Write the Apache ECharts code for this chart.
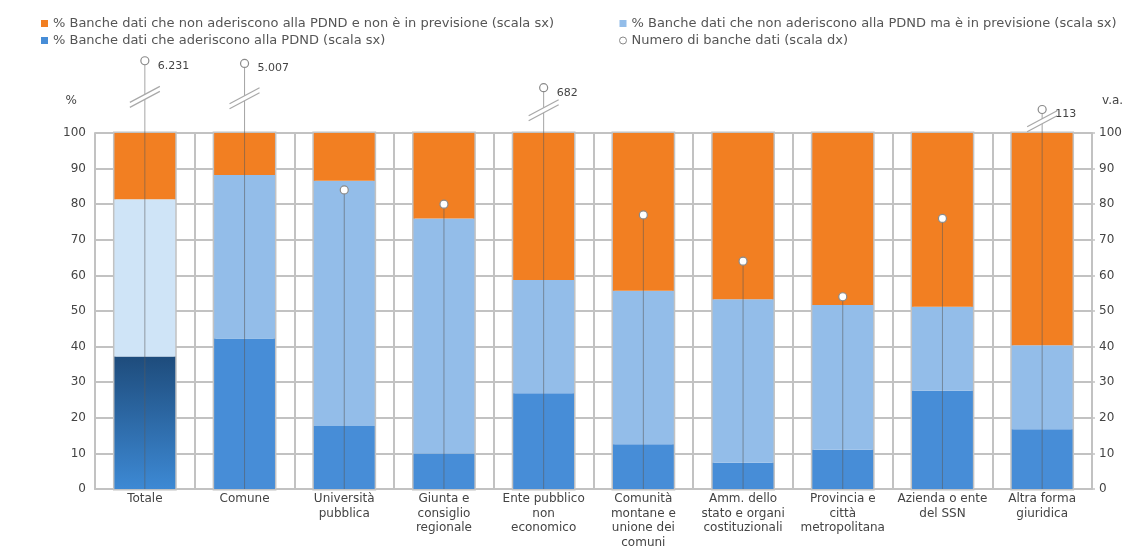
<!DOCTYPE html>
<html>
<head>
<meta charset="utf-8">
<script src="https://cdn.jsdelivr.net/npm/echarts@6/dist/echarts.min.js"></script>
<style>
  html, body { margin: 0; padding: 0; background: #fff; }
  #chart { width: 1138px; height: 559px; }
</style>
</head>
<body>
<div id="chart"></div>
<script>
// Tipologia di ente
const categories = [
  'Totale',
  'Comune',
  'Università\npubblica',
  'Giunta e\nconsiglio\nregionale',
  'Ente pubblico\nnon\neconomico',
  'Comunità\nmontane e\nunione dei\ncomuni',
  'Amm. dello\nstato e organi\ncostituzionali',
  'Provincia e\ncittà\nmetropolitana',
  'Azienda o ente\ndel SSN',
  'Altra forma\ngiuridica'
];

// Quote percentuali (scala sx)
const pctAdherent = [37.2, 42.3, 17.7, 10.0, 26.9, 12.6, 7.4, 11.0, 27.6, 16.8];
const pctPlanned = [44.2, 45.9, 68.9, 66.0, 31.8, 43.1, 45.9, 40.7, 23.6, 23.6];
const pctNotPlanned = [18.6, 11.8, 13.4, 24.0, 41.3, 44.3, 46.7, 48.3, 48.8, 59.6];

// Numero di banche dati (scala dx)
const dbCount = [6231, 5007, 84, 80, 682, 77, 64, 54, 76, 113];

// Assi
const pctAxis = { min: 0, max: 100, interval: 10 };
const countAxis = { min: 0, max: 100, interval: 10 };

const S_NOT = '% Banche dati che non aderiscono alla PDND e non è in previsione (scala sx)';
const S_PLAN = '% Banche dati che non aderiscono alla PDND ma è in previsione (scala sx)';
const S_ADH = '% Banche dati che aderiscono alla PDND (scala sx)';
const S_NUM = 'Numero di banche dati (scala dx)';

const FONT = 'DejaVu Sans';
const TXT = '#444';
const GRID = '#c2c2c2';
const ORANGE = '#f27f22';
const LIGHT = '#93bde9';
const BLUE = '#478dd7';

function itFormat(v) {
  return String(v).replace(/\B(?=(\d{3})+(?!\d))/g, '.');
}

const totalBlue = new echarts.graphic.LinearGradient(0, 0, 0, 1, [
  { offset: 0, color: '#1e4c7c' },
  { offset: 1, color: '#3d89d4' }
]);

const chart = echarts.init(document.getElementById('chart'), null, { renderer: 'canvas' });

chart.setOption({
  animation: false,
  backgroundColor: '#fff',
  textStyle: { fontFamily: FONT },
  legend: [
    {
      left: 36, top: 12, orient: 'vertical', itemGap: 4,
      itemWidth: 7, itemHeight: 7, icon: 'rect',
      textStyle: { color: '#555', fontSize: 13, fontFamily: FONT },
      data: [S_NOT, S_ADH]
    },
    {
      left: 614, top: 12, orient: 'vertical', itemGap: 4,
      itemWidth: 7, itemHeight: 7,
      textStyle: { color: '#555', fontSize: 13, fontFamily: FONT },
      data: [
        { name: S_PLAN, icon: 'rect' },
        { name: S_NUM, icon: 'circle', itemStyle: { color: '#fff', borderColor: '#888', borderWidth: 1 } }
      ]
    }
  ],
  grid: { left: 95, right: 46, top: 133, bottom: 70, containLabel: false },
  xAxis: {
    type: 'category',
    data: categories,
    axisLine: { lineStyle: { color: GRID, width: 2 } },
    axisTick: { show: false },
    splitLine: { show: true, lineStyle: { color: GRID, width: 2 } },
    axisLabel: {
      interval: 0, color: TXT, fontSize: 12, lineHeight: 14.5, margin: 3, fontFamily: FONT
    }
  },
  yAxis: [
    {
      type: 'value', position: 'left',
      min: pctAxis.min, max: pctAxis.max, interval: pctAxis.interval,
      name: '%', nameLocation: 'end', nameGap: 26,
      nameTextStyle: { color: TXT, fontSize: 12, align: 'right', padding: [0, 18, 0, 0], fontFamily: FONT },
      axisLine: { show: true, lineStyle: { color: GRID, width: 2 } },
      axisTick: { show: false },
      splitLine: { show: true, lineStyle: { color: GRID, width: 2 } },
      axisLabel: { color: TXT, fontSize: 12, margin: 9, fontFamily: FONT }
    },
    {
      type: 'value', position: 'right',
      min: countAxis.min, max: countAxis.max, interval: countAxis.interval,
      name: 'v.a.', nameLocation: 'end', nameGap: 26,
      nameTextStyle: { color: TXT, fontSize: 12, align: 'left', padding: [0, 0, 0, 10], fontFamily: FONT },
      axisLine: { show: true, lineStyle: { color: GRID, width: 2 } },
      axisTick: { show: true, length: 3, lineStyle: { color: GRID, width: 1.5 } },
      splitLine: { show: false },
      axisLabel: { color: TXT, fontSize: 12, margin: 7, fontFamily: FONT }
    }
  ],
  series: [
    {
      name: S_ADH, type: 'bar', stack: 'pct', barWidth: '61%',
      itemStyle: { color: BLUE },
      showBackground: true,
      backgroundStyle: { color: 'rgba(0,0,0,0)', borderColor: GRID, borderWidth: 3 },
      data: pctAdherent.map((v, i) => i === 0 ? { value: v, itemStyle: { color: totalBlue } } : v)
    },
    {
      name: S_PLAN, type: 'bar', stack: 'pct', barWidth: '61%',
      itemStyle: { color: LIGHT },
      data: pctPlanned.map((v, i) => i === 0 ? { value: v, itemStyle: { color: '#cfe4f7' } } : v)
    },
    {
      name: S_NOT, type: 'bar', stack: 'pct', barWidth: '61%',
      itemStyle: { color: ORANGE },
      data: pctNotPlanned
    },
    {
      name: S_NUM, type: 'custom', yAxisIndex: 1, z: 5,
      itemStyle: { color: '#fff', borderColor: '#888' },
      encode: { x: 0, y: 1 },
      data: dbCount.map((v, i) => [i, v]),
      renderItem: function (params, api) {
        const i = api.value(0);
        const v = api.value(1);
        const base = api.coord([i, countAxis.min]);
        const top = api.coord([i, countAxis.max]);
        const x = base[0];
        const over = v > countAxis.max;
        // values beyond the right scale sit above the plot on a broken stem
        const y = over
          ? top[1] - (22 + 28 * Math.log10(v / countAxis.max))
          : api.coord([i, v])[1];
        const children = [
          {
            type: 'line',
            shape: { x1: x, y1: y, x2: x, y2: base[1] },
            style: { stroke: 'rgba(90,90,90,0.55)', lineWidth: 1 }
          }
        ];
        if (over) {
          const by = (y + top[1]) / 2;
          const dx = 15, dy = 8, g = 2.5;
          children.push({
            type: 'polygon',
            shape: { points: [[x - dx, by + dy - g], [x + dx, by - dy - g], [x + dx, by - dy + g], [x - dx, by + dy + g]] },
            style: { fill: '#fff' }
          });
          children.push({
            type: 'line',
            shape: { x1: x - dx, y1: by + dy - g, x2: x + dx, y2: by - dy - g },
            style: { stroke: '#a8a8a8', lineWidth: 1.2 }
          });
          children.push({
            type: 'line',
            shape: { x1: x - dx, y1: by + dy + g, x2: x + dx, y2: by - dy + g },
            style: { stroke: '#a8a8a8', lineWidth: 1.2 }
          });
          children.push({
            type: 'text',
            x: x + 13, y: y + 5,
            style: {
              text: itFormat(v), fill: TXT, fontSize: 11, fontFamily: FONT,
              verticalAlign: 'middle', align: 'left'
            }
          });
        }
        children.push({
          type: 'circle',
          shape: { cx: x, cy: y, r: 4 },
          style: { fill: '#fff', stroke: '#8a8a8a', lineWidth: 1.2 }
        });
        return { type: 'group', children: children };
      }
    }
  ]
});
</script>
</body>
</html>
